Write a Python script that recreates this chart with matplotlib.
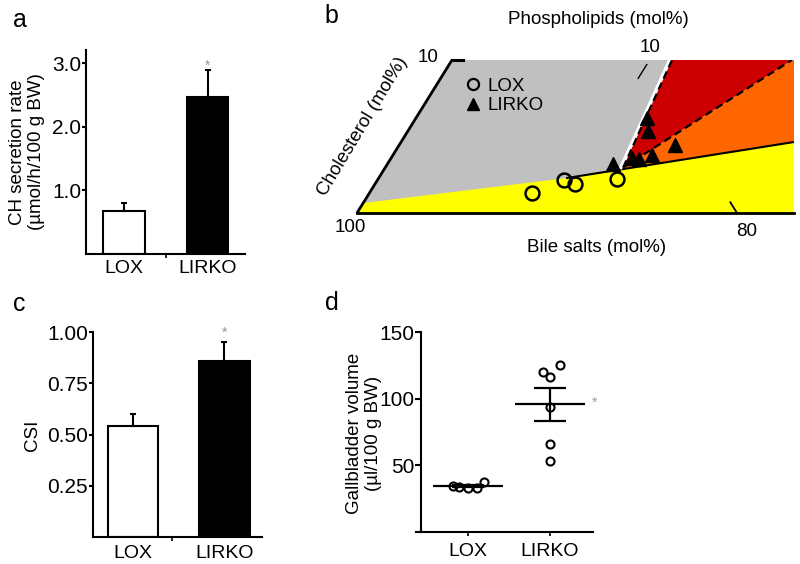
import numpy as np
import matplotlib
matplotlib.use('Agg')
import matplotlib.pyplot as plt
from matplotlib.lines import Line2D

plt.rcParams['font.family'] = ['Liberation Sans', 'DejaVu Sans']

W, H = 800, 564

# --- data ---
groups = ['LOX', 'LIRKO']

# a: cholesterol secretion rate (umol/h/100 g BW), mean and upper SEM
ch_mean = [0.67, 2.47]
ch_err = [0.13, 0.43]

# c: cholesterol saturation index
csi_mean = [0.54, 0.86]
csi_err = [0.06, 0.09]

# d: gallbladder volume (ul/100 g BW), single animals
vol_lox = [34.5, 33.8, 33.0, 33.0, 37.5]
vol_lirko = [120.0, 116.3, 125.3, 93.8, 66.0, 53.3]
jit_lox = [-0.18, -0.11, 0.0, 0.11, 0.20]
jit_lirko = [-0.09, 0.0, 0.12, 0.0, 0.0, 0.0]

# b: bile composition (cholesterol mol%, phospholipid mol%)
lox_chol = [1.33, 2.16, 1.88, 2.20]
lox_pl = [8.57, 9.79, 10.53, 12.57]
lirko_chol = [3.20, 3.59, 3.53, 3.79, 6.21, 5.36, 4.44]
lirko_pl = [11.87, 12.68, 13.08, 13.63, 12.16, 12.64, 14.52]

# phase boundaries in the same units
micelle_chol = [0.65, 2.29, 4.64]
micelle_pl = [0.0, 9.91, 20.68]
triple = (2.97, 12.52)
gray_red_top = (10.0, 11.58)
red_orange_top = (10.0, 17.89)

FS_LABEL = 13.5
FS_XTICK = 14
FS_YTICK = 15


def box(l, t, r, b):
    return [l / W, 1 - b / H, (r - l) / W, (b - t) / H]


def ftext(px, py, s, **kw):
    fig.text(px / W, 1 - py / H, s, **kw)


def tern(chol, pl):
    chol = np.asarray(chol, dtype=float)
    pl = np.asarray(pl, dtype=float)
    return pl + chol / 2, chol * np.sqrt(3) / 2


def style_axes(ax):
    for s in ['top', 'right']:
        ax.spines[s].set_visible(False)
    for s in ['left', 'bottom']:
        ax.spines[s].set_linewidth(1.5)
    ax.tick_params(axis='y', direction='out', length=3, width=1.5, pad=0.5, labelsize=FS_YTICK)
    ax.tick_params(axis='x', which='major', length=0, pad=4, labelsize=FS_XTICK)
    ax.tick_params(axis='x', which='minor', direction='out', length=3, width=1.2)


fig = plt.figure(figsize=(W / 100, H / 100), dpi=100)

# ---------- a ----------
ax = fig.add_axes(box(86, 50, 245, 254))
x = np.arange(2)
ax.bar(x, ch_mean, width=0.5, color=['white', 'black'], edgecolor='black', linewidth=1.5)
ax.errorbar(x, ch_mean, yerr=[np.zeros(2), ch_err], fmt='none', ecolor='black',
            elinewidth=1.5, capsize=2.5, capthick=1.5)
ax.set_xlim(-0.455, 1.449)
ax.set_ylim(0, 3.21)
ax.set_yticks([1, 2, 3])
ax.set_yticklabels(['1.0', '2.0', '3.0'])
ax.set_xticks(x)
ax.set_xticklabels(groups)
ax.set_xticks([0.5], minor=True)
style_axes(ax)
ax.annotate('*', xy=(1, ch_mean[1] + ch_err[1]), xytext=(0, -2), textcoords='offset points',
            ha='center', va='bottom', color='#999999', fontsize=10)
ftext(27, 152, 'CH secretion rate\n(\u00b5mol/h/100 g BW)', rotation=90, ha='center',
      va='center', fontsize=FS_LABEL)
ftext(20, 20, 'a', ha='center', va='center', fontsize=18)

# ---------- c ----------
ax = fig.add_axes(box(93, 332, 262, 537))
ax.bar(x, csi_mean, width=0.55, color=['white', 'black'], edgecolor='black', linewidth=1.5)
ax.errorbar(x, csi_mean, yerr=[np.zeros(2), csi_err], fmt='none', ecolor='black',
            elinewidth=1.5, capsize=2.5, capthick=1.5)
ax.set_xlim(-0.437, 1.41)
ax.set_ylim(0, 1.0)
ax.set_yticks([0.25, 0.5, 0.75, 1.0])
ax.set_yticklabels(['0.25', '0.50', '0.75', '1.00'])
ax.set_xticks(x)
ax.set_xticklabels(groups)
ax.set_xticks([0.426], minor=True)
style_axes(ax)
ax.tick_params(axis='x', which='major', pad=6)
ax.annotate('*', xy=(1, csi_mean[1] + csi_err[1]), xytext=(0, 2), textcoords='offset points',
            ha='center', va='bottom', color='#999999', fontsize=10)
ftext(32, 435, 'CSI', rotation=90, ha='center', va='center', fontsize=FS_LABEL)
ftext(19, 304, 'c', ha='center', va='center', fontsize=18)

# ---------- d ----------
ax = fig.add_axes(box(421, 332, 593, 532))
for i, (vals, jit) in enumerate([(vol_lox, jit_lox), (vol_lirko, jit_lirko)]):
    vals = np.asarray(vals)
    m = vals.mean()
    sem = vals.std(ddof=1) / np.sqrt(len(vals))
    ax.hlines(m, i - 0.43, i + 0.43, color='black', lw=1.6, zorder=2)
    ax.vlines(i, m - sem, m + sem, color='black', lw=1.6, zorder=2)
    ax.hlines([m - sem, m + sem], i - 0.2, i + 0.2, color='black', lw=1.6, zorder=2)
    ax.plot(i + np.asarray(jit), vals, 'o', mfc='none', mec='black', mew=1.5, ms=5.8, zorder=3)
    if i == 1:
        ax.annotate('*', xy=(i + 0.43, m), xytext=(5, 1), textcoords='offset points',
                    ha='left', va='center', color='#999999', fontsize=10)
ax.set_xlim(-0.573, 1.524)
ax.set_ylim(0, 150)
ax.set_yticks([0, 50, 100, 150])
ax.set_yticklabels(['', '50', '100', '150'])
ax.set_xticks([0, 1])
ax.set_xticklabels(groups)
style_axes(ax)
ax.tick_params(axis='y', length=4)
ax.tick_params(axis='x', which='major', length=3, width=1.2, pad=5)
ftext(364, 433, 'Gallbladder volume\n(\u00b5l/100 g BW)', rotation=90, ha='center',
      va='center', fontsize=FS_LABEL)
ftext(332, 303, 'd', ha='center', va='center', fontsize=18)

# ---------- b: ternary phase diagram ----------
ax = fig.add_axes(box(357, 60, 794, 213))
ax.set_xlim(0, 23.0)
ax.set_ylim(0, 10 * np.sqrt(3) / 2)
ax.axis('off')

big = 40
gray = tern([0, 10, 10, 0], [0, 0, big, big])
ax.fill(*gray, color='#c0c0c0', lw=0)
orange = tern([triple[0], red_orange_top[0], 10, 0, 0],
              [triple[1], red_orange_top[1], big, big, triple[1]])
ax.fill(*orange, color='#ff6600', lw=0)
red = tern([triple[0], gray_red_top[0], red_orange_top[0]],
           [triple[1], gray_red_top[1], red_orange_top[1]])
ax.fill(*red, color='#cc0000', lw=0)
yellow = tern([0] + micelle_chol + [0], [0] + micelle_pl + [big])
ax.fill(*yellow, color='#ffff00', lw=0)

# frame lines and axis ticks
ax.plot(*tern([0, 10], [0, 0]), color='black', lw=2, clip_on=False, solid_capstyle='butt')
ax.plot(*tern([0, 0], [0, 23.0]), color='black', lw=2, clip_on=False)
ax.plot(*tern(micelle_chol[1:], micelle_pl[1:]), color='black', lw=1.5)
ax.plot(*tern([10, 10], [0, 0.6]), color='black', lw=2.2, clip_on=False)
ax.plot(*tern([0, 0.7], [20, 19.3]), color='black', lw=1.3, clip_on=False)
ax.plot(*tern([8.8, 9.7], [10.4, 10.4]), color='black', lw=1.0, clip_on=False)

# dashed phase boundaries
gx, gy = tern([triple[0], gray_red_top[0]], [triple[1], gray_red_top[1]])
ax.plot(gx - 0.12, gy, color='white', lw=2.5)
ax.plot(gx, gy, color='black', lw=1.6, ls=(0, (3.5, 2)))
ax.plot(*tern([triple[0], red_orange_top[0]], [triple[1], red_orange_top[1]]),
        color='black', lw=1.6, ls=(0, (3.5, 2)))

ax.plot(*tern(lox_chol, lox_pl), 'o', mfc='none', mec='black', mew=1.8, ms=10, zorder=5)
ax.plot(*tern(lirko_chol, lirko_pl), '^', color='black', ms=10.5, zorder=5, clip_on=False)

handles = [Line2D([], [], marker='o', ls='', mfc='none', mec='black', mew=1.6, ms=8, label='LOX'),
           Line2D([], [], marker='^', ls='', color='black', ms=9, label='LIRKO')]
ax.legend(handles=handles, loc='upper left', bbox_to_anchor=(0.245, 0.885), frameon=False,
          fontsize=FS_LABEL, handlelength=0.9, handletextpad=0.35, labelspacing=0.12,
          borderpad=0, borderaxespad=0)

ftext(598, 20, 'Phospholipids (mol%)', ha='center', va='center', fontsize=FS_LABEL)
ftext(650, 47, '10', ha='center', va='center', fontsize=FS_LABEL)
ftext(428, 58, '10', ha='center', va='center', fontsize=FS_LABEL)
ftext(363, 127, 'Cholesterol (mol%)', rotation=59, ha='center', va='center', fontsize=FS_LABEL)
ftext(350, 227, '100', ha='center', va='center', fontsize=FS_LABEL)
ftext(747, 231, '80', ha='center', va='center', fontsize=FS_LABEL)
ftext(597, 247, 'Bile salts (mol%)', ha='center', va='center', fontsize=FS_LABEL)
ftext(331, 16, 'b', ha='center', va='center', fontsize=18)

fig.savefig('out.png', dpi=100)
